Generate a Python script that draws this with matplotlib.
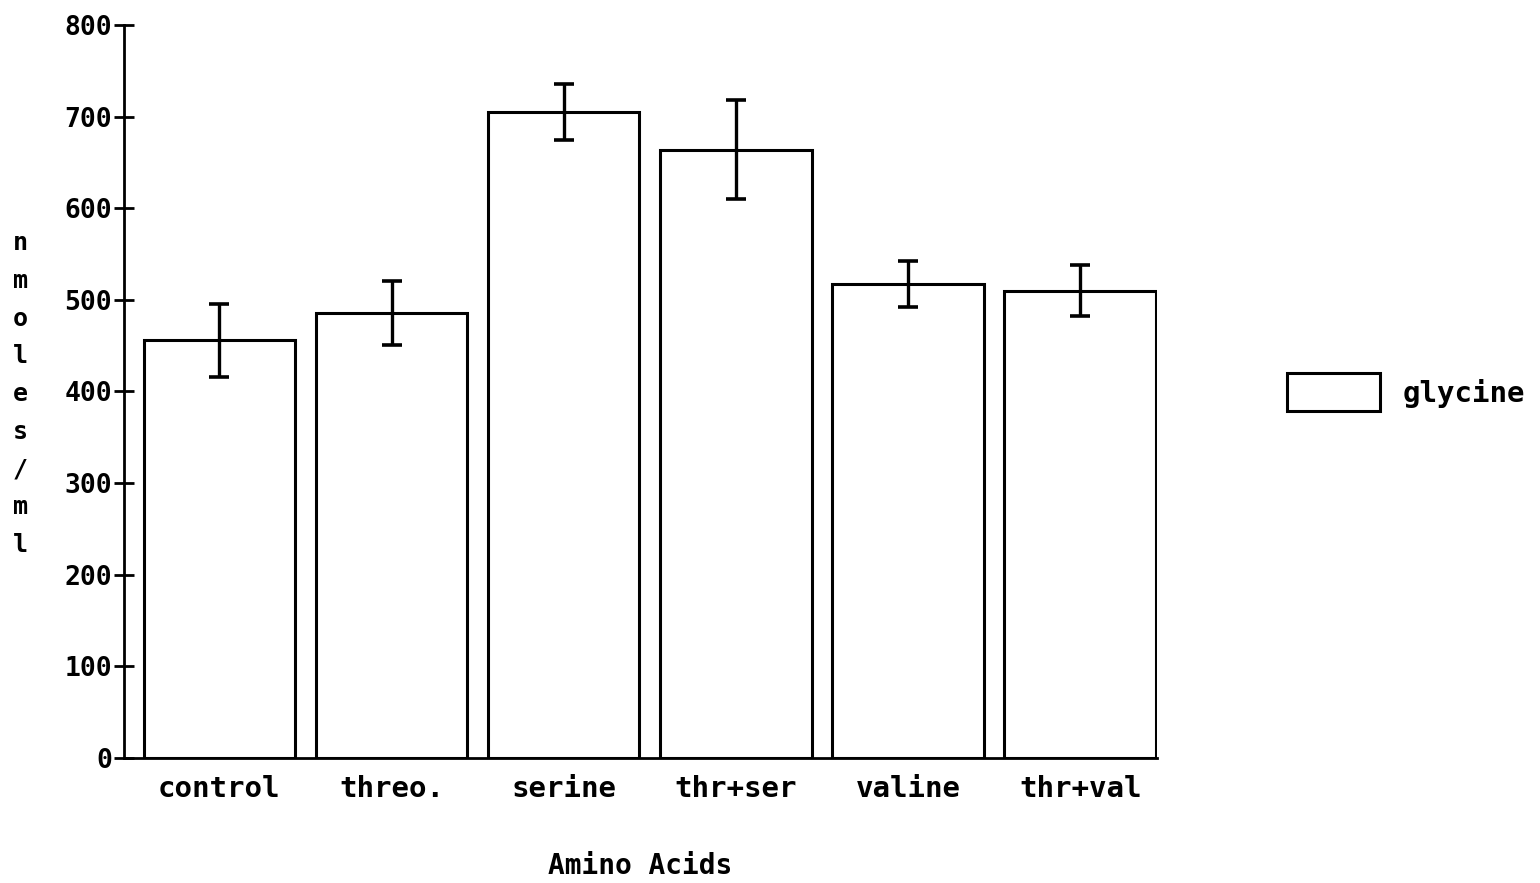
import matplotlib.pyplot as plt
import numpy as np

plt.rcParams.update({
    'font.family': 'DejaVu Sans Mono',
    'font.weight': 'bold',
    'axes.linewidth': 2.0,
    'figure.facecolor': 'white',
})

categories = ['control', 'threo.', 'serine', 'thr+ser', 'valine', 'thr+val']
glycine = [456, 486, 705, 664, 517, 510]
glycine_err = [40, 35, 31, 54, 25, 28]
y_ticks = [0, 100, 200, 300, 400, 500, 600, 700, 800]

fig = plt.figure(figsize=(15.4, 8.83), dpi=100)
ax = fig.add_axes([0.0805, 0.1416, 0.6708, 0.8301])

x = np.arange(len(categories))
ax.bar(x, glycine, width=0.88, color='white', edgecolor='black',
       linewidth=2.2, label='glycine', zorder=2)
ax.errorbar(x, glycine, yerr=glycine_err, fmt='none', ecolor='black',
            elinewidth=2.4, capsize=7.5, capthick=2.6, zorder=3)

ax.set_xlim(-0.554, 5.446)
ax.set_ylim(0, 800)
ax.set_yticks(y_ticks)
ax.set_yticklabels([str(v) for v in y_ticks])
ax.set_xticks(x)
ax.set_xticklabels(categories)
ax.tick_params(axis='y', direction='inout', length=15, width=2,
               labelsize=19, pad=1)
ax.tick_params(axis='x', length=0, labelsize=21, pad=12)

for side in ['top', 'right']:
    ax.spines[side].set_visible(False)

# axis titles
fig.text(640 / 1540, 1 - 866 / 883, 'Amino Acids', fontsize=20,
         fontweight='bold', ha='center', va='center')
fig.text(0.013, 1 - 394 / 883, '\n'.join('nmoles/ml'), fontsize=18,
         ha='center', va='center', linespacing=1.72)

ax.legend(loc='center left', bbox_to_anchor=(1287 / 1540, 1 - 392 / 883),
          bbox_transform=fig.transFigure, frameon=False, fontsize=21,
          handlelength=3.2, handleheight=1.6, handletextpad=0.75,
          borderpad=0, borderaxespad=0)

fig.savefig('out.png', dpi=100)
